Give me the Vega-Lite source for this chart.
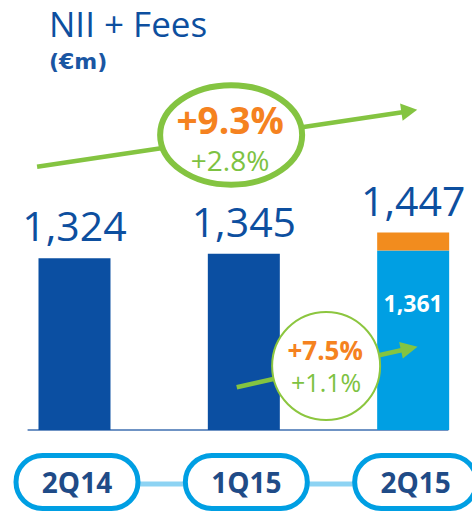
{
  "$schema": "https://vega.github.io/schema/vega-lite/v6.json",
  "width": 472,
  "height": 511,
  "autosize": {"type": "none"},
  "padding": 0,
  "background": "white",
  "config": {"view": {"stroke": null}, "font": "Open Sans"},
  "title": {
    "text": "NII + Fees",
    "subtitle": "(€m)",
    "anchor": "start",
    "frame": "group",
    "dx": 49,
    "offset": -73,
    "font": "Open Sans",
    "fontSize": 35,
    "fontWeight": "normal",
    "color": "#0d4f9f",
    "subtitleFont": "DejaVu Sans",
    "subtitleFontSize": 22,
    "subtitleFontWeight": "bold",
    "subtitleColor": "#1a56a3",
    "subtitlePadding": 8
  },
  "datasets": {
    "bars": [
      {"quarter": "2Q14", "i": 0, "segment": "NII + Fees", "value": 1324},
      {"quarter": "1Q15", "i": 1, "segment": "NII + Fees", "value": 1345},
      {"quarter": "2Q15", "i": 2, "segment": "Organic", "value": 1361}
    ],
    "extra": [
      {"quarter": "2Q15", "i": 2, "segment": "Perimeter", "from": 1361, "value": 1447}
    ],
    "totals": [
      {"quarter": "2Q14", "i": 0, "total": 1324},
      {"quarter": "1Q15", "i": 1, "total": 1345},
      {"quarter": "2Q15", "i": 2, "total": 1447}
    ],
    "arrows": [
      {"name": "2Q15 vs 2Q14", "x0": -0.221, "y0": 1763, "x1": 1.936, "y1": 2024},
      {"name": "2Q15 vs 1Q15", "x0": 0.958, "y0": 705, "x1": 1.936, "y1": 884}
    ]
  },
  "layer": [
    {
      "data": {"values": [{}]},
      "mark": {"type": "rule", "color": "#3f6fb0", "strokeWidth": 1.5},
      "encoding": {
        "x": {"datum": -0.277, "type": "quantitative", "scale": {"domain": [-0.4104, 2.3179], "nice": false, "zero": false}, "axis": null},
        "x2": {"datum": 2.208},
        "y": {"datum": 500, "type": "quantitative", "scale": {"domain": [111.5, 2562.4], "nice": false, "zero": false}, "axis": null}
      }
    },
    {
      "data": {"name": "bars"},
      "mark": {"type": "bar", "width": 72},
      "encoding": {
        "x": {"field": "i", "type": "quantitative", "scale": {"domain": [-0.4104, 2.3179], "nice": false, "zero": false}, "axis": null},
        "y": {"field": "value", "type": "quantitative", "scale": {"domain": [111.5, 2562.4], "nice": false, "zero": false}, "axis": null},
        "y2": {"datum": 500},
        "color": {"field": "segment", "type": "nominal", "scale": {"domain": ["NII + Fees", "Organic", "Perimeter"], "range": ["#0b4fa2", "#009fe3", "#f28c1e"]}, "legend": null}
      }
    },
    {
      "data": {"name": "extra"},
      "mark": {"type": "bar", "width": 72},
      "encoding": {
        "x": {"field": "i", "type": "quantitative", "scale": {"domain": [-0.4104, 2.3179], "nice": false, "zero": false}, "axis": null},
        "y": {"field": "value", "type": "quantitative", "scale": {"domain": [111.5, 2562.4], "nice": false, "zero": false}, "axis": null},
        "y2": {"field": "from"},
        "color": {"field": "segment", "type": "nominal", "scale": {"domain": ["NII + Fees", "Organic", "Perimeter"], "range": ["#0b4fa2", "#009fe3", "#f28c1e"]}, "legend": null}
      }
    },
    {
      "data": {"name": "totals"},
      "mark": {"type": "text", "font": "Open Sans", "fontSize": 41, "color": "#0d4f9f", "baseline": "alphabetic", "align": "center", "dy": -17},
      "encoding": {
        "x": {"field": "i", "type": "quantitative", "scale": {"domain": [-0.4104, 2.3179], "nice": false, "zero": false}, "axis": null},
        "y": {"field": "total", "type": "quantitative", "scale": {"domain": [111.5, 2562.4], "nice": false, "zero": false}, "axis": null},
        "text": {"field": "total", "type": "quantitative", "format": ","}
      }
    },
    {
      "data": {"name": "bars"},
      "transform": [{"filter": "datum.segment === 'Organic'"}],
      "mark": {"type": "text", "font": "Open Sans", "fontSize": 23, "fontWeight": "bold", "color": "white", "baseline": "alphabetic", "align": "center", "dy": 62},
      "encoding": {
        "x": {"field": "i", "type": "quantitative", "scale": {"domain": [-0.4104, 2.3179], "nice": false, "zero": false}, "axis": null},
        "y": {"field": "value", "type": "quantitative", "scale": {"domain": [111.5, 2562.4], "nice": false, "zero": false}, "axis": null},
        "text": {"field": "value", "type": "quantitative", "format": ","}
      }
    },
    {
      "data": {"name": "arrows"},
      "mark": {"type": "rule", "color": "#84c441", "strokeWidth": 4.5},
      "encoding": {
        "x": {"field": "x0", "type": "quantitative", "scale": {"domain": [-0.4104, 2.3179], "nice": false, "zero": false}, "axis": null},
        "x2": {"field": "x1"},
        "y": {"field": "y0", "type": "quantitative", "scale": {"domain": [111.5, 2562.4], "nice": false, "zero": false}, "axis": null},
        "y2": {"field": "y1"}
      }
    },
    {
      "data": {"values": [{"x": 1.977, "y": 2030}]},
      "mark": {"type": "point", "shape": "M-1,-1.1L1,0L-1,1.1Z", "size": 256, "filled": true, "color": "#84c441", "opacity": 1, "angle": -8.3},
      "encoding": {
        "x": {"field": "x", "type": "quantitative", "scale": {"domain": [-0.4104, 2.3179], "nice": false, "zero": false}, "axis": null},
        "y": {"field": "y", "type": "quantitative", "scale": {"domain": [111.5, 2562.4], "nice": false, "zero": false}, "axis": null}
      }
    },
    {
      "data": {"values": [{"x": 1.977, "y": 891}]},
      "mark": {"type": "point", "shape": "M-1,-1L1,0L-1,1Z", "size": 289, "filled": true, "color": "#84c441", "opacity": 1, "angle": -12.4},
      "encoding": {
        "x": {"field": "x", "type": "quantitative", "scale": {"domain": [-0.4104, 2.3179], "nice": false, "zero": false}, "axis": null},
        "y": {"field": "y", "type": "quantitative", "scale": {"domain": [111.5, 2562.4], "nice": false, "zero": false}, "axis": null}
      }
    },
    {
      "data": {"values": [{"x": 0.925, "y": 1915}]},
      "mark": {"type": "point", "shape": "M-1,0C-1,-0.387,-0.552,-0.7,0,-0.7C0.552,-0.7,1,-0.387,1,0C1,0.387,0.552,0.7,0,0.7C-0.552,0.7,-1,0.387,-1,0Z", "size": 20164, "filled": true, "fill": "white", "fillOpacity": 1, "stroke": "#84c441", "strokeWidth": 6, "opacity": 1},
      "encoding": {
        "x": {"field": "x", "type": "quantitative", "scale": {"domain": [-0.4104, 2.3179], "nice": false, "zero": false}, "axis": null},
        "y": {"field": "y", "type": "quantitative", "scale": {"domain": [111.5, 2562.4], "nice": false, "zero": false}, "axis": null}
      }
    },
    {
      "data": {"values": [{"x": 1.486, "y": 807}]},
      "mark": {"type": "point", "shape": "circle", "size": 11664, "filled": true, "fill": "white", "fillOpacity": 1, "stroke": "#8cc63f", "strokeWidth": 2, "opacity": 1},
      "encoding": {
        "x": {"field": "x", "type": "quantitative", "scale": {"domain": [-0.4104, 2.3179], "nice": false, "zero": false}, "axis": null},
        "y": {"field": "y", "type": "quantitative", "scale": {"domain": [111.5, 2562.4], "nice": false, "zero": false}, "axis": null}
      }
    },
    {
      "data": {"values": [{"x": 0.919, "y": 1920, "label": "+9.3%"}, {"x": 1.48, "y": 836, "label": "+7.5%"}]},
      "mark": {"type": "text", "font": "Open Sans", "fontWeight": "bold", "color": "#f58220", "baseline": "alphabetic", "align": "center"},
      "encoding": {
        "x": {"field": "x", "type": "quantitative", "scale": {"domain": [-0.4104, 2.3179], "nice": false, "zero": false}, "axis": null},
        "y": {"field": "y", "type": "quantitative", "scale": {"domain": [111.5, 2562.4], "nice": false, "zero": false}, "axis": null},
        "text": {"field": "label"},
        "size": {"condition": {"test": "datum.label === '+9.3%'", "value": 37}, "value": 26}
      }
    },
    {
      "data": {"values": [{"x": 0.919, "y": 1742, "label": "+2.8%"}, {"x": 1.486, "y": 684, "label": "+1.1%"}]},
      "mark": {"type": "text", "font": "Open Sans", "color": "#7dc242", "baseline": "alphabetic", "align": "center"},
      "encoding": {
        "x": {"field": "x", "type": "quantitative", "scale": {"domain": [-0.4104, 2.3179], "nice": false, "zero": false}, "axis": null},
        "y": {"field": "y", "type": "quantitative", "scale": {"domain": [111.5, 2562.4], "nice": false, "zero": false}, "axis": null},
        "text": {"field": "label"},
        "size": {"condition": {"test": "datum.label === '+2.8%'", "value": 28}, "value": 25}
      }
    },
    {
      "data": {"values": [{}]},
      "mark": {"type": "rule", "color": "#8dd3f3", "strokeWidth": 5},
      "encoding": {
        "x": {"datum": 0, "type": "quantitative", "scale": {"domain": [-0.4104, 2.3179], "nice": false, "zero": false}, "axis": null},
        "x2": {"datum": 2},
        "y": {"datum": 241, "type": "quantitative", "scale": {"domain": [111.5, 2562.4], "nice": false, "zero": false}, "axis": null}
      }
    },
    {
      "data": {"name": "bars"},
      "mark": {"type": "bar", "width": 122, "xOffset": 2.5, "cornerRadius": 27, "fill": "white", "stroke": "#009fe3", "strokeWidth": 5},
      "encoding": {
        "x": {"field": "i", "type": "quantitative", "scale": {"domain": [-0.4104, 2.3179], "nice": false, "zero": false}, "axis": null},
        "y": {"datum": 378, "type": "quantitative", "scale": {"domain": [111.5, 2562.4], "nice": false, "zero": false}, "axis": null},
        "y2": {"datum": 123.5}
      }
    },
    {
      "data": {"name": "bars"},
      "mark": {"type": "text", "font": "Open Sans", "fontSize": 28, "fontWeight": "bold", "color": "#1f4b87", "baseline": "alphabetic", "align": "center", "xOffset": 2.5},
      "encoding": {
        "x": {"field": "i", "type": "quantitative", "scale": {"domain": [-0.4104, 2.3179], "nice": false, "zero": false}, "axis": null},
        "y": {"datum": 198, "type": "quantitative", "scale": {"domain": [111.5, 2562.4], "nice": false, "zero": false}, "axis": null},
        "text": {"field": "quarter"}
      }
    }
  ]
}
